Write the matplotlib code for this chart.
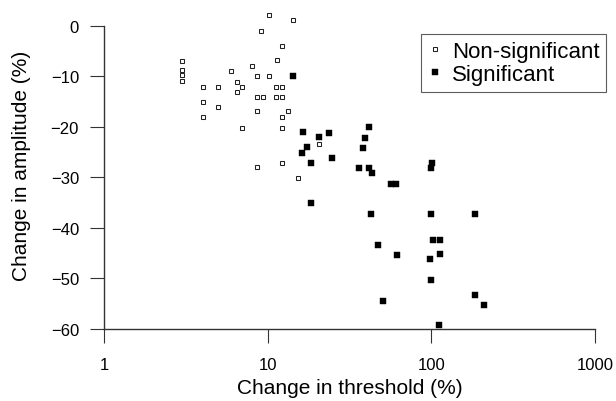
import matplotlib
matplotlib.use("Agg")
import matplotlib.pyplot as plt

# Data (threshold change on log axis, amplitude change)
x_ns = [3, 3, 3, 3, 4, 5, 4, 5, 4, 6, 6.5, 7, 6.5, 8, 7,
        8.6, 10.2, 9.1, 10.2, 14.3, 12.3, 11.4, 8.6, 9.3, 11.2, 12.3, 11.2, 12.3,
        8.6, 13.3, 12.3, 12.3, 8.6, 12.3, 15.3, 20.6]
y_ns = [-7, -8.7, -9.8, -10.8, -12, -12, -15, -16, -18, -9, -11, -12, -13, -8, -20.2,
        -9.9, -9.9, -0.9, 2.1, 1.1, -4, -6.7, -14, -14, -12, -12, -14, -14,
        -16.9, -16.9, -18, -20.2, -28, -27.1, -30.2, -23.3]

x_sig = [14.3, 16.4, 20.6, 23.6, 17.5, 16.2, 18.5, 24.7, 18.3,
         41.6, 39.3, 38.2, 35.9, 41.6, 43.6, 57, 61, 101, 100,
         42.5, 100, 184, 47.2, 102, 113.5, 62, 113.5, 97.7,
         99, 184, 209, 50.9, 111]
y_sig = [-9.9, -21, -22, -21.1, -24, -25.1, -27.1, -26.1, -35,
         -20, -22.2, -24.1, -28.2, -28.2, -29.1, -31.2, -31.2, -27.2, -28.1,
         -37.3, -37.3, -37.3, -43.3, -42.3, -42.3, -45.4, -45.2, -46.2,
         -50.3, -53.3, -55.3, -54.4, -59.3]

x_ticks = [1, 10, 100, 1000]
y_ticks = [0, -10, -20, -30, -40, -50, -60]

plt.rcParams['font.family'] = ['Liberation Sans', 'DejaVu Sans']
axis_col = '#333333'

fig = plt.figure(figsize=(6.16, 4.02), dpi=100)
ax = fig.add_axes([104 / 616, 72 / 402, 491 / 616, 0.8166])

# open squares first, filled ones on top
ax.plot(x_ns, y_ns, linestyle='none', marker='s', markersize=3.3,
        markerfacecolor='white', markeredgecolor='#222222', markeredgewidth=0.75,
        label='Non-significant')
ax.plot(x_sig, y_sig, linestyle='none', marker='s', markersize=4.4,
        markerfacecolor='black', markeredgecolor='black', markeredgewidth=0.3,
        label='Significant')

ax.set_xscale('log')
ax.set_xlim(1, 1000)
ax.set_ylim(-60, 5)
ax.set_xticks(x_ticks)
ax.set_xticklabels([str(t) for t in x_ticks])
ax.xaxis.set_minor_locator(matplotlib.ticker.NullLocator())
ax.set_yticks(y_ticks)
ax.set_yticklabels([str(t).replace('-', '\u2212') for t in y_ticks])

# only left and bottom axis lines
ax.spines['top'].set_visible(False)
ax.spines['right'].set_visible(False)
ax.spines['left'].set_bounds(-60, 0)
ax.spines['bottom'].set_bounds(1, 1000)
for side in ['left', 'bottom']:
    ax.spines[side].set_color(axis_col)
    ax.spines[side].set_linewidth(1.0)
ax.tick_params(direction='out', length=10, width=0.8, color=axis_col,
               labelsize=12)
ax.tick_params(axis='x', pad=10.5)
ax.tick_params(axis='y', pad=8)

ax.set_xlabel('Change in threshold (%)', fontsize=15, labelpad=4)
ax.set_ylabel('Change in amplitude (%)', fontsize=15, labelpad=14)

leg = fig.legend(loc='upper right', bbox_to_anchor=(606 / 616, 1 - 35 / 402),
                 fontsize=16, frameon=True, fancybox=False, borderpad=0.3,
                 labelspacing=0.1, handlelength=0.7, handletextpad=0.4,
                 borderaxespad=0, markerscale=1.0)
leg.get_frame().set_edgecolor('#333333')
leg.get_frame().set_linewidth(0.8)

fig.savefig('out.png', dpi=100)
